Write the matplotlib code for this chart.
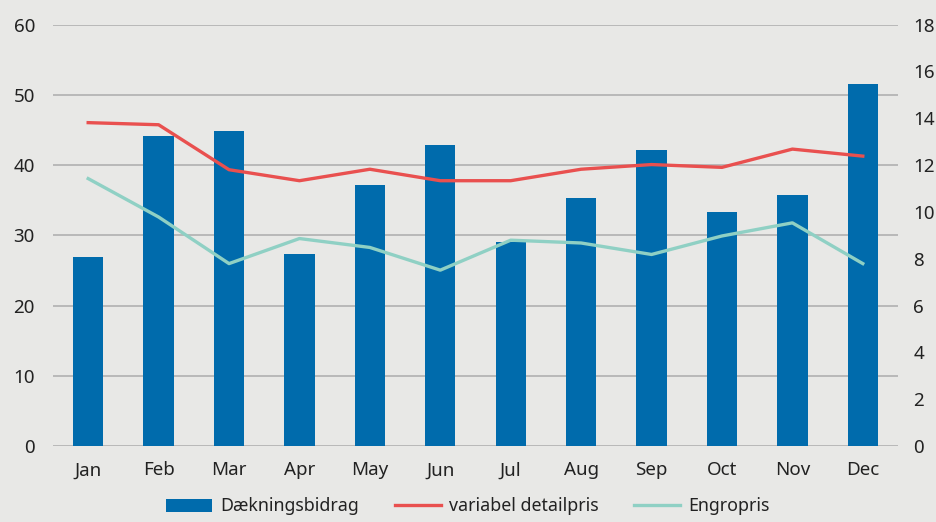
import matplotlib.pyplot as plt
import numpy as np

plt.rcParams['font.family'] = ['Noto Sans', 'DejaVu Sans']

months = ['Jan', 'Feb', 'Mar', 'Apr', 'May', 'Jun', 'Jul', 'Aug', 'Sep', 'Oct', 'Nov', 'Dec']
daekningsbidrag = [26.9, 44.2, 44.8, 27.3, 37.1, 42.9, 29.1, 35.3, 42.2, 33.3, 35.8, 51.5]
detailpris = [13.81, 13.72, 11.80, 11.33, 11.82, 11.33, 11.33, 11.82, 12.02, 11.90, 12.68, 12.38]
engropris = [11.42, 9.78, 7.79, 8.86, 8.48, 7.51, 8.79, 8.67, 8.18, 8.97, 9.53, 7.79]

bg = '#e8e8e6'
fig = plt.figure(figsize=(9.36, 5.22), dpi=100, facecolor=bg)
ax = fig.add_axes([0.0566, 0.1456, 0.9028, 0.8074])
ax.set_facecolor(bg)
ax2 = ax.twinx()

x = np.arange(len(months))
bars = ax.bar(x, daekningsbidrag, width=0.43, color='#006bac', label='Dækningsbidrag', zorder=2)
l1, = ax2.plot(x, detailpris, color='#e9504f', lw=2.4, label='variabel detailpris', zorder=3)
l2, = ax2.plot(x, engropris, color='#8fd0c4', lw=2.4, label='Engropris', zorder=3)

ax.set_xlim(-0.5, 11.5)
ax.set_ylim(0, 60)
ax.set_yticks(range(0, 61, 10))
ax2.set_ylim(0, 18)
ax2.set_yticks(range(0, 19, 2))
ax.set_xticks(x)
ax.set_xticklabels(months)

ax.grid(axis='y', color='#b0b0b0', lw=1.2, zorder=0)
ax.set_axisbelow(True)
for a in (ax, ax2):
    for s in a.spines.values():
        s.set_visible(False)
    a.tick_params(length=0, labelsize=13.5, colors='#222222')
ax.tick_params(axis='y', pad=13)
ax.tick_params(axis='x', pad=11)
ax2.tick_params(axis='y', pad=11)

fig.legend([bars, l1, l2], ['Dækningsbidrag', 'variabel detailpris', 'Engropris'],
           loc='lower center', bbox_to_anchor=(0.5, -0.018), ncol=3, frameon=False,
           fontsize=12.8, handlelength=2.6, handleheight=0.75, columnspacing=2.0,
           handletextpad=0.45, labelcolor='#222222')

fig.savefig('out.png', dpi=100, facecolor=bg)
